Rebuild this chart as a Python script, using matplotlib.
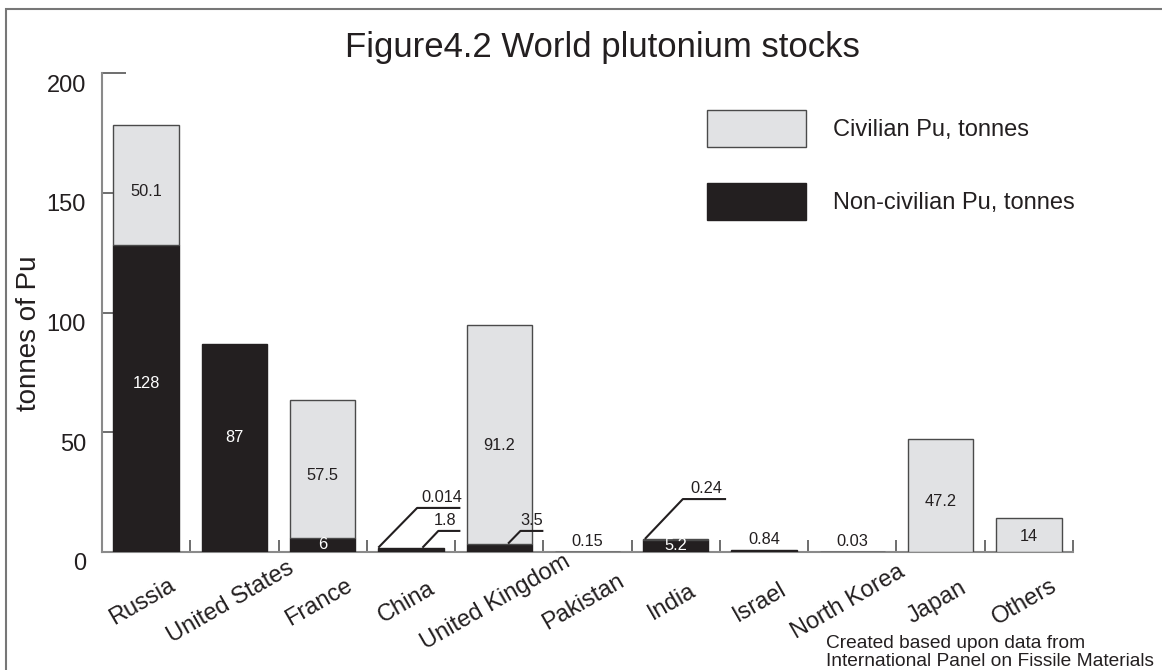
import numpy as np
import matplotlib.pyplot as plt
from matplotlib.patches import Patch, Rectangle
from matplotlib.transforms import ScaledTranslation

plt.rcParams['font.family'] = ['Liberation Sans', 'DejaVu Sans']

countries = ['Russia', 'United States', 'France', 'China', 'United Kingdom',
             'Pakistan', 'India', 'Israel', 'North Korea', 'Japan', 'Others']
non_civil = [128, 87, 6, 1.8, 3.5, 0.15, 5.2, 0.84, 0.03, 0, 0]
civil = [50.1, 0, 57.5, 0.014, 91.2, 0, 0.24, 0, 0, 47.2, 14]

# labels drawn inside the bars
inside_black = {0: '128', 1: '87', 2: '6', 6: '5.2'}
inside_gray = {0: '50.1', 2: '57.5', 4: '91.2', 9: '47.2', 10: '14'}
# small values written above the bar
above = {5: '0.15', 7: '0.84', 8: '0.03'}
# callouts: (bar index, which value, label, start dx, elbow dx, elbow y, end dx, text dx, text y)
callouts = [
    (3, 'total', '0.014', 0.0, 0.44, 18.4, 0.93, 0.72, 19.5),
    (3, 'nc', '1.8', 0.5, 0.68, 8.8, 0.93, 0.76, 9.9),
    (4, 'nc', '3.5', 0.47, 0.61, 8.8, 0.87, 0.74, 9.9),
    (6, 'total', '0.24', 0.02, 0.45, 22.1, 0.94, 0.72, 23.2),
]

BLACK = '#231f20'
GRAY = '#e1e2e4'
EDGE = '#4a4a4a'
AXC = '#8a8a8a'
LBL = 11.8

fig = plt.figure(figsize=(11.62, 6.70), dpi=100)
ax = fig.add_axes([102 / 1162, 118 / 670, 971 / 1162, 479 / 670])

x = np.arange(len(countries))
nc = np.array(non_civil)
cv = np.array(civil)
w = 0.74

m = nc > 0
ax.bar(x[m], nc[m], width=w, color=BLACK, edgecolor=BLACK, linewidth=1, zorder=3)
m = cv > 0.1
ax.bar(x[m], cv[m], width=w, bottom=nc[m], color=GRAY, edgecolor=EDGE,
       linewidth=1, zorder=3)

for i, t in inside_black.items():
    ax.text(x[i], nc[i] * 0.55, t, ha='center', va='center', color='white',
            fontsize=LBL, zorder=4)
for i, t in inside_gray.items():
    ax.text(x[i], nc[i] + cv[i] * 0.45, t, ha='center', va='center',
            color='#231f20', fontsize=LBL, zorder=4)
for i, t in above.items():
    ax.text(x[i], nc[i] + 1.3, t, ha='center', va='bottom', color='#231f20',
            fontsize=LBL, zorder=4)

for i, kind, t, sdx, edx, ey, endx, tdx, ty in callouts:
    left = x[i] - w / 2
    y0 = nc[i] + cv[i] if kind == 'total' else nc[i]
    ax.plot([left + sdx, left + edx, left + endx], [y0, ey, ey],
            color='#231f20', lw=1.5, zorder=4, solid_capstyle='butt')
    ax.text(left + tdx, ty, t, ha='center', va='bottom', color='#231f20',
            fontsize=LBL, zorder=4)

ax.set_xlim(-0.5, len(countries) - 0.5)
ax.set_ylim(0, 200)
for s in ['top', 'right']:
    ax.spines[s].set_visible(False)
for s in ['left', 'bottom']:
    ax.spines[s].set_color(AXC)
    ax.spines[s].set_linewidth(1.5)
ax.spines['left'].set_zorder(2)

ax.set_yticks([0, 50, 100, 150, 200])
ax.tick_params(axis='y', direction='in', length=17.3, width=1.2, color='#555555',
               labelsize=17, pad=11.5, labelcolor='#231f20')
ax.set_xticks(x)
ax.set_xticks(list(x[:-1] + 0.5) + [len(countries) - 0.5], minor=True)
ax.set_xticklabels(countries)
ax.tick_params(axis='x', which='major', length=0, labelsize=17, pad=36,
               labelcolor='#231f20')
ax.tick_params(axis='x', which='minor', direction='in', length=8.6, width=1.2,
               color='#555555')

for lbl in ax.get_xticklabels():
    lbl.set(rotation=30, ha='center', va='center', rotation_mode='anchor')
    lbl.set_transform(lbl.get_transform() + ScaledTranslation(-0.04, 0, fig.dpi_scale_trans))
for lbl in ax.get_yticklabels():
    lbl.set_transform(lbl.get_transform() + ScaledTranslation(0, -0.10, fig.dpi_scale_trans))

fig.text(29 / 1162, 1 - 333 / 670, 'tonnes of Pu', rotation=90, ha='center',
         va='center', fontsize=20, color='#231f20')
fig.text(602 / 1162, 1 - 47 / 670, 'Figure4.2 World plutonium stocks',
         ha='center', va='center', fontsize=25, color='#231f20')

handles = [Patch(facecolor=GRAY, edgecolor=EDGE, linewidth=1),
           Patch(facecolor=BLACK, edgecolor=BLACK, linewidth=1)]
fig.legend(handles, ['Civilian Pu, tonnes', 'Non-civilian Pu, tonnes'],
           loc='upper left', bbox_to_anchor=(707 / 1162, 1 - 110 / 670),
           frameon=False, fontsize=17, handlelength=4.2, handleheight=2.04,
           labelspacing=1.5, handletextpad=1.14, borderpad=0, borderaxespad=0,
           labelcolor='#231f20')

fig.text(826 / 1162, 1 - 643 / 670, 'Created based upon data from',
         ha='left', va='center', fontsize=13.8, color='#231f20')
fig.text(826 / 1162, 1 - 661 / 670, 'International Panel on Fissile Materials',
         ha='left', va='center', fontsize=13.8, color='#231f20')

fig.add_artist(Rectangle((6 / 1162, -0.1), 1.2, 1.1 - 9 / 670,
                         transform=fig.transFigure, fill=False,
                         edgecolor='#777777', linewidth=1.5))

fig.savefig('out.png', dpi=100)
